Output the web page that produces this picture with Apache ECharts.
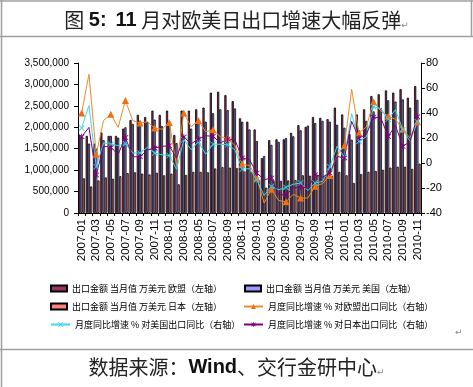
<!DOCTYPE html>
<html>
<head>
<meta charset="utf-8">
<script src="https://cdn.jsdelivr.net/npm/echarts@6/dist/echarts.min.js"></script>
<style>
html,body{margin:0;padding:0;background:#fff;}
#c{width:473px;height:387px;}
</style>
</head>
<body>
<div id="c"></div>
<script>
var months = ['2007-01','2007-02','2007-03','2007-04','2007-05','2007-06','2007-07','2007-08','2007-09','2007-10','2007-11','2007-12',
'2008-01','2008-02','2008-03','2008-04','2008-05','2008-06','2008-07','2008-08','2008-09','2008-10','2008-11','2008-12',
'2009-01','2009-02','2009-03','2009-04','2009-05','2009-06','2009-07','2009-08','2009-09','2009-10','2009-11','2009-12',
'2010-01','2010-02','2010-03','2010-04','2010-05','2010-06','2010-07','2010-08','2010-09','2010-10','2010-11'];

var euExport = [1820000,1800000,1620000,1880000,1800000,1800000,1970000,2170000,2290000,2240000,2390000,2290000,
2390000,1820000,2390000,2390000,2420000,2460000,2810000,2830000,2750000,2610000,2210000,2130000,
1950000,1280000,1700000,1720000,1720000,1870000,2050000,2010000,2240000,2220000,2190000,2460000,
2300000,1840000,2300000,2420000,2730000,2770000,2860000,2810000,2890000,2690000,2960000];

var usExport = [1780000,1620000,1500000,1700000,1800000,1760000,2000000,2080000,2150000,2120000,2180000,2030000,
2080000,1630000,1800000,1970000,2120000,2130000,2330000,2420000,2400000,2440000,2130000,1950000,
1680000,1330000,1590000,1660000,1750000,1790000,1930000,2040000,2100000,2150000,2130000,2060000,
1990000,1710000,1930000,2150000,2370000,2450000,2630000,2600000,2650000,2460000,2640000];

var jpExport = [810000,620000,760000,830000,800000,860000,930000,950000,920000,900000,940000,880000,
920000,670000,890000,960000,960000,950000,1040000,1070000,1060000,1050000,980000,950000,
770000,590000,760000,750000,760000,770000,880000,870000,890000,860000,860000,960000,
880000,700000,910000,960000,980000,1010000,1060000,1080000,1080000,1030000,1150000];

var euYoY = [40,71,7,34,39,28.5,50,34,32,33,28,27,
32.5,-2,40,29,34,25,26.6,21,20,14,-1,-2,
-12,-32,-21,-30,-31,-25,-28,-28,-18.5,-16.5,-10,6,
14,59,24,28.8,49,41.5,37.5,35,27,20,33];

var usYoY = [28,46,-3,16,15,14,15.5,8,8,12.5,8,6.6,
6,-5,18.6,10.6,17,7,15,15,14.6,10.6,-5,-4.5,
-13.4,-26,-18.7,-21.4,-19.5,-17,-16,-22,-16,-14.7,-3,13.3,
5,39.5,17.3,21,45,43.5,35,42.7,26.7,17.3,33];

var jpYoY = [21,28.5,-9.6,13.6,12.5,7,20.5,5,5,10.4,12,13.3,
13.8,4,20.8,15.4,19.2,21.8,21.4,16,19.2,18.6,4,2.6,
-8,-13.4,-12,-25.4,-25.4,-20,-19,-20,-9.3,-11.2,-8,5.3,
4,33.3,20,22.7,36.8,36,21.3,30,13.3,17.3,37];

var leftTicks = {min: 0, max: 3500000, interval: 500000};
var rightTicks = {min: -40, max: 80, interval: 20};

var names = ['出口金额 当月值 万美元 欧盟（左轴）','出口金额 当月值 万美元 美国（左轴）','出口金额 当月值 万美元 日本（左轴）',
'月度同比增速 % 对欧盟出口同比（右轴）','月度同比增速 % 对美国出口同比（右轴）','月度同比增速 % 对日本出口同比（右轴）'];

var xSym = 'path://M0,1L1,0L5,4L9,0L10,1L6,5L10,9L9,10L5,6L1,10L0,9L4,5Z';
var starSym = 'path://M0,1L1,0L5,4L9,0L10,1L6,5L10,9L9,10L5,6L1,10L0,9L4,5Z M4.3,-1L5.7,-1L5.7,11L4.3,11Z';

var chart = echarts.init(document.getElementById('c'), null, {renderer: 'canvas'});

function barS(name, data, color) {
  return {name: name, type: 'bar', yAxisIndex: 0, data: data, barGap: '0%', barCategoryGap: '10%',
    itemStyle: {color: color, borderColor: '#000', borderWidth: 0.8}, animation: false};
}
function lineS(name, data, color, mcolor, sym, size) {
  return {name: name, type: 'line', yAxisIndex: 1, data: data, symbol: sym, symbolSize: size,
    lineStyle: {color: color, width: 1}, itemStyle: {color: mcolor}, animation: false, z: 5};
}
var legText = {fontFamily: 'Noto Sans CJK SC', fontSize: 9, color: '#000'};
function leg(name, left, top, isBar) {
  var o = {data: [name], left: left, top: top, itemHeight: 6, textStyle: legText, itemGap: 4};
  if (isBar) { o.icon = 'rect'; o.itemWidth = 16; } else { o.itemWidth = 19; }
  return o;
}
var capA = {fontFamily: 'Noto Sans CJK SC', fontSize: 20, fontWeight: 'normal', color: '#222'};
var capB = {fontFamily: 'Liberation Sans', fontSize: 20, fontWeight: 'bold', color: '#111'};
var capC = {fontFamily: 'DejaVu Sans', fontSize: 9, fontWeight: 'normal', color: '#888', verticalAlign: 'bottom'};

var option = {
  backgroundColor: '#fff',
  title: [
    {text: '{a|图 }{b|5:}{a|  }{b|11}{a| 月对欧美日出口增速大幅反弹}{c|↵}', left: 'center', top: 5,
      textStyle: {fontWeight: 'normal', rich: {a: capA, b: capB, c: capC}}},
    {text: '{a|数据来源：}{b|Wind}{a|、交行金研中心}{c|↵}', left: 'center', top: 352,
      textStyle: {fontWeight: 'normal', rich: {a: capA, b: capB, c: capC}}}
  ],
  graphic: [
    {type: 'line', shape: {x1: 0, y1: 1, x2: 473, y2: 1}, style: {stroke: '#a0a0a0', lineWidth: 1.5}},
    {type: 'line', shape: {x1: 0, y1: 36.5, x2: 473, y2: 36.5}, style: {stroke: '#a0a0a0', lineWidth: 1.5}},
    {type: 'line', shape: {x1: 0, y1: 349.5, x2: 473, y2: 349.5}, style: {stroke: '#a0a0a0', lineWidth: 1.5}},
    {type: 'line', shape: {x1: 1.5, y1: 0, x2: 1.5, y2: 387}, style: {stroke: '#a0a0a0', lineWidth: 1.5}},
    {type: 'line', shape: {x1: 471.5, y1: 0, x2: 471.5, y2: 37}, style: {stroke: '#a0a0a0', lineWidth: 1.5}},
    {type: 'text', left: 455, top: 328, style: {text: '↵', fill: '#888', font: '9px DejaVu Sans'}}
  ],
  legend: [
    leg(names[0], 45, 279, true),
    leg(names[1], 239, 279, true),
    leg(names[2], 45, 297, true),
    leg(names[3], 238, 297, false),
    leg(names[4], 45, 315, false),
    leg(names[5], 238, 315, false)
  ],
  grid: {left: 78, right: 52, top: 63, bottom: 174},
  xAxis: {type: 'category', data: months, boundaryGap: true,
    axisLine: {lineStyle: {color: '#000', width: 1}},
    axisTick: {show: true, interval: 0, length: 3, lineStyle: {color: '#000'}},
    axisLabel: {interval: 1, rotate: 90, fontFamily: 'Liberation Sans', fontSize: 11.5, color: '#000', margin: 6}},
  yAxis: [
    {type: 'value', min: leftTicks.min, max: leftTicks.max, interval: leftTicks.interval, position: 'left',
      axisLine: {show: true, lineStyle: {color: '#000'}}, axisTick: {show: true, length: 4, lineStyle: {color: '#000'}},
      splitLine: {show: false},
      axisLabel: {fontFamily: 'Liberation Sans', fontSize: 10, color: '#000', margin: 9,
        formatter: function (v) { return v.toLocaleString('en-US'); }}},
    {type: 'value', min: rightTicks.min, max: rightTicks.max, interval: rightTicks.interval, position: 'right',
      axisLine: {show: true, lineStyle: {color: '#000'}}, axisTick: {show: true, length: 4, lineStyle: {color: '#000'}},
      splitLine: {show: false},
      axisLabel: {fontFamily: 'Liberation Sans', fontSize: 11, color: '#000', margin: 5}}
  ],
  series: [
    barS(names[0], euExport, '#993366'),
    barS(names[1], usExport, '#9999FF'),
    barS(names[2], jpExport, '#FF8080'),
    lineS(names[3], euYoY, '#F08A2C', '#F07010', 'triangle', 7),
    lineS(names[4], usYoY, '#40D8E8', '#33CCEE', xSym, 6),
    lineS(names[5], jpYoY, '#800080', '#800080', starSym, 6)
  ]
};
chart.setOption(option);
</script>
</body>
</html>
